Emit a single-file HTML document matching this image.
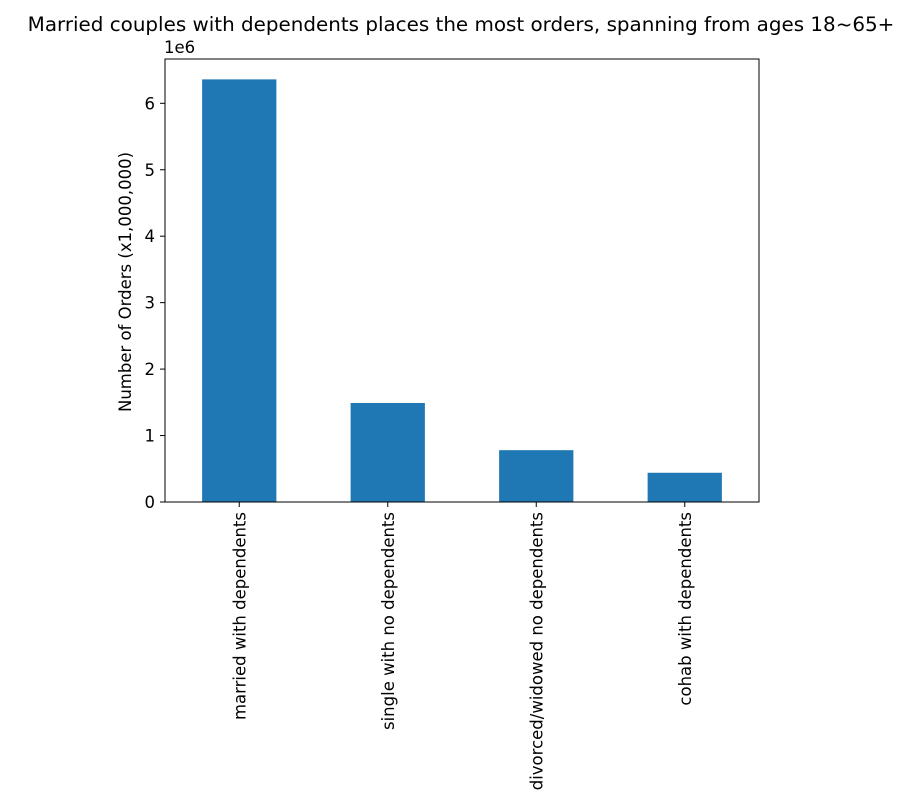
<!DOCTYPE html>
<html><head><meta charset="utf-8"><style>
body{margin:0;background:#fff;}
svg{display:block;font-family:"DejaVu Sans","Liberation Sans",sans-serif;}
</style></head><body>
<svg id="chart" width="921" height="811" viewBox="0 0 921 811" xmlns="http://www.w3.org/2000/svg">
<rect width="921" height="811" fill="#fff"/>
<text x="461" y="31" text-anchor="middle" font-size="19.9" fill="#000">Married couples with dependents places the most orders, spanning from ages 18~65+</text>
<text x="164" y="53" font-size="16.5" fill="#000">1e6</text>
<text transform="translate(131,282) rotate(-90)" text-anchor="middle" font-size="16.5" fill="#000">Number of Orders (x1,000,000)</text>
<g id="bars"></g>
<g id="yticks"></g>
<g id="xticks"></g>
<rect x="165" y="59" width="594" height="443" fill="none" stroke="#000" stroke-width="1"/>
</svg>
<script>
const categories=["married with dependents","single with no dependents","divorced/widowed no dependents","cohab with dependents"];
const orders=[6360000,1490000,780000,440000];
const yTicks=[0,1,2,3,4,5,6];
const L=165,R=759,T=59,B=502,perUnit=66.45;
const ns="http://www.w3.org/2000/svg";
function y(v){return B-v/1e6*perUnit;}
function xc(i){return L+(i+0.5)*(R-L)/categories.length;}
const bw=(R-L)/categories.length*0.5;
const bars=document.getElementById('bars'),yt=document.getElementById('yticks'),xt=document.getElementById('xticks');
categories.forEach((c,i)=>{
 const r=document.createElementNS(ns,'rect');
 r.setAttribute('x',xc(i)-bw/2);r.setAttribute('y',y(orders[i]));
 r.setAttribute('width',bw);r.setAttribute('height',B-y(orders[i]));r.setAttribute('fill','#1f77b4');
 
 
 bars.appendChild(r);
 const l=document.createElementNS(ns,'line');
 l.setAttribute('x1',xc(i));l.setAttribute('x2',xc(i));l.setAttribute('y1',B);l.setAttribute('y2',B+5);l.setAttribute('stroke','#000');
 
 
 xt.appendChild(l);
 const t=document.createElementNS(ns,'text');
 t.setAttribute('transform','translate('+(xc(i)+6)+','+(B+10)+') rotate(-90)');
 t.setAttribute('text-anchor','end');t.setAttribute('font-size','16.5');t.textContent=c;
 
 
 xt.appendChild(t);
});
yTicks.forEach(v=>{
 const yy=y(v*1e6);
 const l=document.createElementNS(ns,'line');
 l.setAttribute('x1',L-5);l.setAttribute('x2',L);l.setAttribute('y1',yy);l.setAttribute('y2',yy);l.setAttribute('stroke','#000');
 
 
 yt.appendChild(l);
 const t=document.createElementNS(ns,'text');
 t.setAttribute('x',L-10);t.setAttribute('y',yy+6);t.setAttribute('text-anchor','end');t.setAttribute('font-size','16.5');t.textContent=v;
 
 
 yt.appendChild(t);
});
</script>
</body></html>
